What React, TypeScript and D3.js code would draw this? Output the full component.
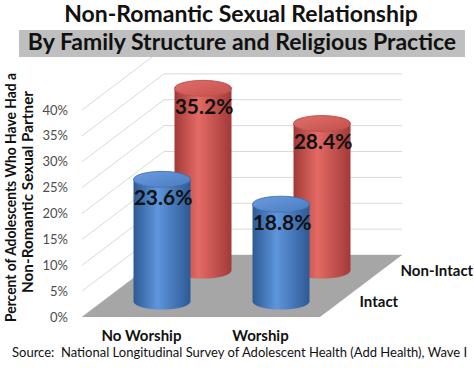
import * as d3 from 'd3';

// chart data
const categories = ['No Worship', 'Worship'];
const seriesNames = ['Intact', 'Non-Intact'];
const intactValues = [23.6, 18.8];
const nonIntactValues = [35.2, 28.4];
const yTicks = [0, 5, 10, 15, 20, 25, 30, 35, 40];

const width = 474;
const height = 374;
const font = 'Lato, "Open Sans", sans-serif';

// 3d box of the plot: front-left floor corner, width and depth offset
const x0 = 82;
const y0 = 317;
const floorW = 238;
const depthX = 82;
const depthY = -62;

const u = d3.scaleBand().domain(categories).range([0, floorW]);
const depth = d3.scalePoint().domain(seriesNames).range([0.25, 0.75]);
const yScale = d3.scaleLinear().domain([0, 40]).range([0, 207]);

const project = (ux: number, d: number, v: number): [number, number] => [
  x0 + ux + d * depthX,
  y0 + d * depthY - yScale(v)
];

const rx = 28.5;
const ry = 8;

const colors: Record<string, { dark: string; light: string; edge: string; top: string; topLight: string }> = {
  Intact: { dark: '#2d5a95', light: '#5e95dc', edge: '#3968a8', top: '#4a7cc0', topLight: '#6b9be0' },
  'Non-Intact': { dark: '#a23a37', light: '#e46a65', edge: '#b5423f', top: '#c4504c', topLight: '#df6e69' }
};

function Cylinder({ series, cat, value }: { series: string; cat: string; value: number }) {
  const d = depth(series) as number;
  const cx = (u(cat) as number) + u.bandwidth() / 2;
  const [bx, by] = project(cx, d, 0);
  const [, ty] = project(cx, d, value);
  const bodyD = `M${bx - rx},${ty} L${bx - rx},${by} A${rx},${ry} 0 0 0 ${bx + rx},${by} L${bx + rx},${ty} A${rx},${ry} 0 0 1 ${bx - rx},${ty} Z`;
  const id = series === 'Intact' ? 'blue' : 'red';
  return (
    <g>
      <path d={bodyD} fill={`url(#body-${id})`} />
      <ellipse cx={bx} cy={ty} rx={rx} ry={ry} fill={`url(#top-${id})`} stroke={colors[series].edge} strokeWidth={0.8} />
    </g>
  );
}

export default function App() {
  const rows = [
    { series: 'Non-Intact', values: nonIntactValues },
    { series: 'Intact', values: intactValues }
  ];
  const floor = [
    project(0, 0, 0),
    project(floorW, 0, 0),
    project(floorW, 1, 0),
    project(0, 1, 0)
  ];

  return (
    <svg
      width={width}
      height={height}
      viewBox={`0 0 ${width} ${height}`}
      style={{ position: 'absolute', left: 0, top: 0, background: '#fff' }}
    >
      <defs>
        {Object.entries({ blue: 'Intact', red: 'Non-Intact' }).map(([id, s]) => (
          <g key={id}>
            <linearGradient id={`body-${id}`} x1="0" x2="1" y1="0" y2="0">
              <stop offset="0%" stopColor={colors[s].dark} />
              <stop offset="42%" stopColor={colors[s].light} />
              <stop offset="100%" stopColor={colors[s].dark} />
            </linearGradient>
            <linearGradient id={`top-${id}`} x1="0" x2="1" y1="0" y2="1">
              <stop offset="0%" stopColor={colors[s].topLight} />
              <stop offset="100%" stopColor={colors[s].top} />
            </linearGradient>
          </g>
        ))}
      </defs>

      {/* walls gridlines */}
      {yTicks.map((t) => {
        const [fx, fy] = project(0, 0, t);
        const [bx, by] = project(0, 1, t);
        const [ex] = project(floorW, 1, t);
        return (
          <polyline
            key={t}
            points={`${fx},${fy} ${bx},${by} ${ex},${by}`}
            fill="none"
            stroke="#d9d9d9"
            strokeWidth={1}
          />
        );
      })}

      {/* floor */}
      <polygon points={floor.map((p) => p.join(',')).join(' ')} fill="#a6a6a6" />

      {/* tick labels */}
      {yTicks.map((t) => (
        <text
          key={t}
          x={68}
          y={y0 - yScale(t)}
          dy="0.35em"
          textAnchor="end"
          fontFamily={font}
          fontSize={13}
          fill="#4d4d4d"
        >
          {t}%
        </text>
      ))}

      {/* cylinders, back row first */}
      {rows.map((r) =>
        categories.map((c, i) => <Cylinder key={r.series + c} series={r.series} cat={c} value={r.values[i]} />)
      )}

      {/* value labels */}
      {rows.map((r) =>
        categories.map((c, i) => {
          const d = depth(r.series) as number;
          const [lx, ly] = project((u(c) as number) + u.bandwidth() / 2, d, r.values[i]);
          return (
            <text
              key={'l' + r.series + c}
              x={lx + 1}
              y={ly + 18}
              dy="0.35em"
              textAnchor="middle"
              fontFamily={font}
              fontWeight="bold"
              fontSize={21}
              fill="#111"
            >
              {r.values[i].toFixed(1)}%
            </text>
          );
        })
      )}

      {/* category labels */}
      {categories.map((c) => (
        <text
          key={c}
          x={x0 + (u(c) as number) + u.bandwidth() / 2}
          y={341}
          textAnchor="middle"
          fontFamily={font}
          fontWeight="bold"
          fontSize={15}
          fill="#111"
        >
          {c}
        </text>
      ))}

      {/* series labels on the depth axis */}
      {seriesNames.map((s) => {
        const [sx, sy] = project(floorW, depth(s) as number, 0);
        return (
          <text
            key={s}
            x={sx + 19}
            y={sy}
            dy="0.35em"
            fontFamily={font}
            fontWeight="bold"
            fontSize={15}
            fill="#111"
          >
            {s}
          </text>
        );
      })}

      {/* axis title */}
      <g transform="rotate(-90)">
        <text
          x={-197.5}
          y={16}
          textAnchor="middle"
          fontFamily={font}
          fontWeight="bold"
          fontSize={15.5}
          fill="#111"
          textLength={249}
          lengthAdjust="spacingAndGlyphs"
        >
          Percent of Adolescents Who Have Had a
        </text>
        <text
          x={-192}
          y={33}
          textAnchor="middle"
          fontFamily={font}
          fontWeight="bold"
          fontSize={15.5}
          fill="#111"
          textLength={202}
          lengthAdjust="spacingAndGlyphs"
        >
          Non-Romantic Sexual Partner
        </text>
      </g>

      {/* titles */}
      <text x={241} y={22} textAnchor="middle" fontFamily={font} fontWeight="bold" fontSize={23} fill="#111">
        Non-Romantic Sexual Relationship
      </text>
      <rect x={19} y={30} width={446} height={27} fill="#bfbfbf" />
      <text x={242} y={50} textAnchor="middle" fontFamily={font} fontWeight="bold" fontSize={23} fill="#111">
        By Family Structure and Religious Practice
      </text>

      <text x={12} y={357} fontFamily={font} fontSize={13} fill="#111" xmlSpace="preserve">
        Source:  National Longitudinal Survey of Adolescent Health (Add Health), Wave I
      </text>
    </svg>
  );
}
